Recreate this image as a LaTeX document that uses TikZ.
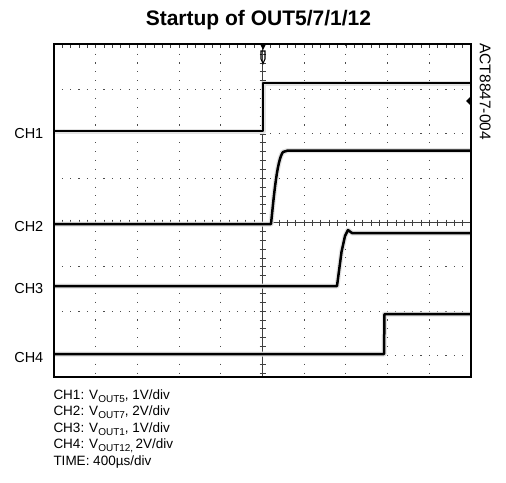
\documentclass[tikz,border=0pt]{standalone}
\usepackage{fontspec}
\setmainfont{Liberation Sans}
\newcommand{\vsub}[1]{V\raisebox{-0.22em}{\fontsize{10}{10}\selectfont #1}}
\begin{document}
\begin{tikzpicture}[x=1pt,y=-1pt,
  frame/.style={line width=1.6pt,black},
  gridh/.style={line width=1.1pt,gray!60!black,dash pattern=on 1.1pt off 7.24pt},
  gridv/.style={line width=1.1pt,gray!60!black,dash pattern=on 1.1pt off 7.76pt},
  axisline/.style={line width=1pt,gray!50!black},
  tick/.style={line width=0.8pt,gray!50!black},
  halo/.style={line width=5pt,gray!22,line join=round},
  trace/.style={line width=2.5pt,black,line join=round},
  chlabel/.style={font=\fontsize{14.5}{17}\selectfont,inner sep=0pt,anchor=east},
  legend/.style={font=\fontsize{13.5}{16}\selectfont,inner sep=0pt,anchor=base west}]
\useasboundingbox[fill=white] (0,0) rectangle (506,482);
\def\xl{54}\def\xr{471}\def\yt{44}\def\yb{377}
\def\dx{41.7}\def\dy{44.3}\def\yc{222.5}\def\xc{262.5}
% dotted grid
\foreach \k in {-3,-2,-1,1,2,3}
  \draw[gridh] (\xl-0.55,\yc+\k*\dy) -- (\xr,\yc+\k*\dy);
\foreach \k in {1,2,3,4,6,7,8,9}
  \draw[gridv] (\xl+\k*\dx,\yc-4*\dy-0.55) -- (\xl+\k*\dx,\yb);
% centre axes with minor ticks
\draw[axisline] (\xl,\yc) -- (\xr,\yc);
\draw[axisline] (\xc,\yt) -- (\xc,\yb);
\foreach \m in {1,...,49}
  \draw[tick] (\xl+\m*8.34,\yc-3) -- ++(0,6);
\foreach \m in {-19,...,17}
  \draw[tick] (\xc-3,\yc+\m*8.86) -- ++(6,0);
\foreach \m in {1,...,49}
  \draw[tick] (\xl+\m*8.34,\yt) -- ++(0,4);
% traces (halo)
\draw[halo] (\xl,131) -- (263,131) -- (263,83) -- (\xr,83);
\draw[halo] (\xl,224) -- (271,224) .. controls (274,195) and (277,160) .. (283,152) -- (288,150.5) -- (\xr,150.5);
\draw[halo] (\xl,286) -- (337,286) -- (341.5,252) -- (345,236) -- (348,230) -- (352,233) -- (\xr,233);
\draw[halo] (\xl,354) -- (384,354) -- (384.5,314) -- (\xr,314);
% traces
\draw[trace] (\xl,131) -- (263,131) -- (263,83) -- (\xr,83);
\draw[trace] (\xl,224) -- (271,224) .. controls (274,195) and (277,160) .. (283,152) -- (288,150.5) -- (\xr,150.5);
\draw[trace] (\xl,286) -- (337,286) -- (341.5,252) -- (345,236) -- (348,230) -- (352,233) -- (\xr,233);
\draw[trace] (\xl,354) -- (384,354) -- (384.5,314) -- (\xr,314);
% frame
\draw[frame] (\xl,\yt) rectangle (\xr,\yb);
% markers
\fill (260,44) -- (266,44) -- (263,50) -- cycle;
\draw[line width=1.1pt] (261,51) -- (265,51) -- (265,59) -- (263,63.5) -- (261,59) -- cycle;
\fill (466,101) -- (471,96) -- (471,106) -- cycle;
% texts
\node[font=\bfseries\fontsize{21}{24}\selectfont,inner sep=0pt,anchor=base] (title) at (258.4,25.7) {Startup of OUT5/7/1/12};
\node[rotate=-90,font=\fontsize{15.5}{18}\selectfont,inner sep=0pt] (code) at (485.3,91.7) {ACT8847-004};
\node[chlabel] (l1) at (43.5,134) {CH1};
\node[chlabel] (l2) at (43.5,227) {CH2};
\node[chlabel] (l3) at (43.5,288.3) {CH3};
\node[chlabel] (l4) at (43.5,357.3) {CH4};
\node[legend] (g1) at (53.3,399.3) {CH1: \vsub{OUT5}, 1V/div};
\node[legend] (g2) at (53.3,415.8) {CH2: \vsub{OUT7}, 2V/div};
\node[legend] (g3) at (53.3,432.3) {CH3: \vsub{OUT1}, 1V/div};
\node[legend] (g4) at (53.3,448.8) {CH4: \vsub{OUT12,}\,2V/div};
\node[legend] (g5) at (53.3,465.3) {TIME: 400µs/div};
\end{tikzpicture}
\end{document}
